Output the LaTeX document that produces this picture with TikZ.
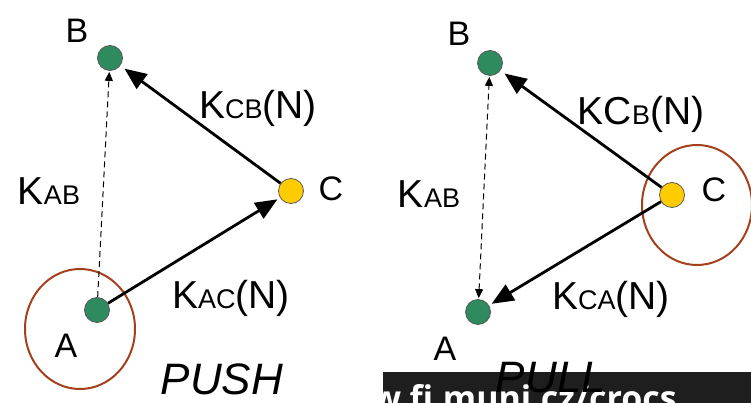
\documentclass[tikz,border=0pt]{standalone}
\usepackage{fontspec}
\setmainfont{Liberation Sans}
\newfontfamily\barfont{Open Sans}
\usetikzlibrary{arrows.meta,shapes.geometric}
\definecolor{nodegreen}{HTML}{2E8B5E}
\definecolor{nodeyellow}{HTML}{FFCC00}
\definecolor{ringred}{HTML}{A5401C}
\definecolor{bardark}{HTML}{1E1E1E}
\newcommand{\ksb}[1]{{\fontsize{27}{27}\selectfont #1}}
\begin{document}
\begin{tikzpicture}[x=1pt,y=-1pt,
  dot/.style={circle, draw=black!65, line width=0.8pt, inner sep=0pt, minimum size=25pt},
  gdot/.style={dot, fill=nodegreen},
  ydot/.style={dot, fill=nodeyellow},
  lbl/.style={inner sep=0pt, font=\fontsize{34}{34}\selectfont},
  elbl/.style={inner sep=0pt, font=\fontsize{39}{39}\selectfont},
  ring/.style={ellipse, draw=ringred, line width=2pt, inner sep=0pt, minimum width=110pt, minimum height=120pt},
  solidarrow/.style={line width=2.8pt, -{Triangle[length=22pt,width=18pt]}, shorten >=3pt},
  dasharrow/.style={line width=1pt, dash pattern=on 6pt off 4pt, -{Triangle[length=9pt,width=8pt]}, shorten >=1pt},
  dashboth/.style={line width=1pt, dash pattern=on 6pt off 4pt, {Triangle[length=9pt,width=8pt]}-{Triangle[length=9pt,width=8pt]}, shorten >=1pt, shorten <=1pt},
  ttl/.style={inner sep=0pt, font=\fontsize{44}{44}\selectfont\itshape}
]
\useasboundingbox (0,0) rectangle (751,403);
% ---------- PUSH ----------
\node[ring] (ringA) at (80,329) {};
\node[gdot] (B1) at (110,58) {};
\node[ydot] (C1) at (291,191) {};
\node[gdot] (A1) at (97,310) {};
\node[lbl] (lB1) at (77,31) {B};
\node[lbl] (lC1) at (331,189) {C};
\node[lbl] (lA1) at (66,346) {A};
\draw[dasharrow] (A1) -- (B1);
\draw[solidarrow] (A1) -- (C1);
\draw[solidarrow, shorten >=5pt] (C1) -- (B1);
\node[elbl] (kab1) at (49,191) {K\ksb{AB}};
\node[elbl] (kcb1) at (258,108) {K\ksb{CB}(N)};
\node[elbl] (kac1) at (231,298) {K\ksb{AC}(N)};
\node[ttl] (push) at (222,379) {PUSH};
% ---------- PULL ----------
\node[ring] (ringC) at (697,205) {};
\node[gdot] (B2) at (490,63) {};
\node[ydot] (C2) at (672,195) {};
\node[gdot] (A2) at (478,312) {};
\node[lbl] (lB2) at (459,34) {B};
\node[lbl] (lC2) at (714,190) {C};
\node[lbl] (lA2) at (445,349) {A};
\draw[dashboth] (A2) -- (B2);
\draw[solidarrow, shorten >=5pt] (C2) -- (B2);
\draw[solidarrow] (C2) -- (A2);
\node[elbl] (kab2) at (429,194) {K\ksb{AB}};
\node[elbl] (kcb2) at (641,114) {KC\ksb{B}(N)};
\node[elbl] (kca2) at (611,299) {K\ksb{CA}(N)};
% ---------- bar ----------
\fill[bardark] (383,372) rectangle (751,403);
\begin{scope}
\clip (383,372) rectangle (751,403);
\node[anchor=base east, text=white, inner sep=0pt, font=\fontsize{34}{34}\selectfont\barfont\bfseries] (url) at (677,410) {w.fi.muni.cz/crocs};
\end{scope}
\node[ttl] (pull) at (551,378) {PULL};
\end{tikzpicture}
\end{document}
